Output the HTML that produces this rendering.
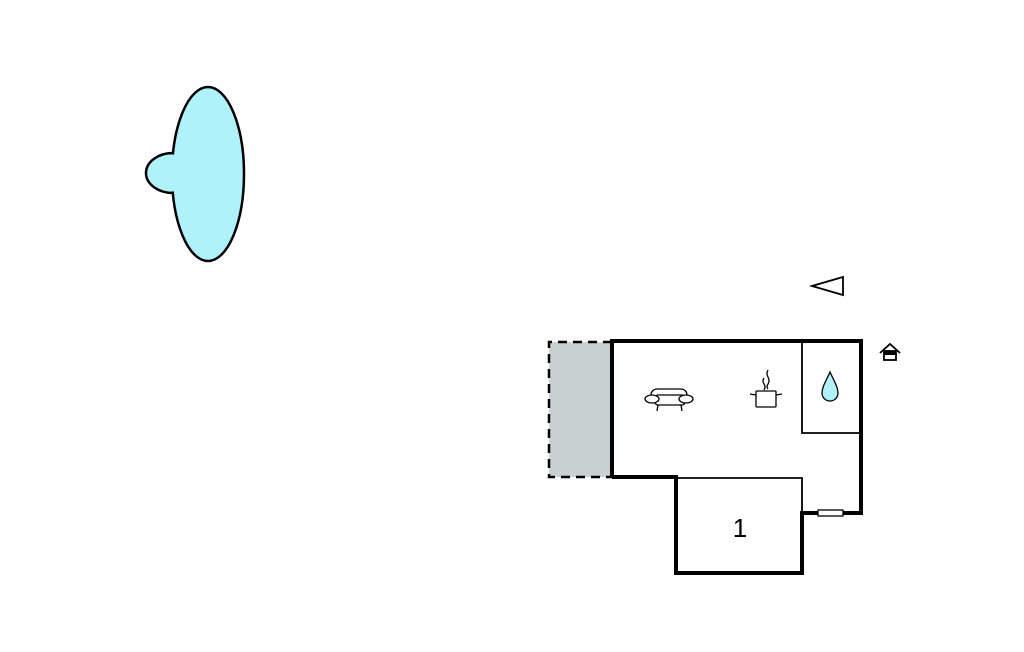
<!DOCTYPE html>
<html><head><style>html,body{margin:0;padding:0;background:#fff;}svg{display:block}</style></head>
<body>
<svg width="1024" height="652" viewBox="0 0 1024 652" xmlns="http://www.w3.org/2000/svg">
<!-- pond -->
<ellipse cx="173" cy="173" rx="27" ry="20" fill="#b0f2fa" stroke="#000" stroke-width="2.5"/>
<ellipse cx="208" cy="174" rx="36" ry="87" fill="#b0f2fa" stroke="#000" stroke-width="2.5"/>
<ellipse cx="173" cy="173" rx="25.5" ry="18.5" fill="#b0f2fa"/>
<ellipse cx="208" cy="174" rx="34.5" ry="85.5" fill="#b0f2fa"/>
<!-- north arrow -->
<polygon points="812,286 843,277 843,295" fill="none" stroke="#000" stroke-width="1.8"/>
<!-- terrace -->
<rect x="549" y="342" width="63" height="135" fill="#c9d1d3"/>
<path d="M612,342 H549 V477 H612" fill="none" stroke="#000" stroke-width="2.5" stroke-dasharray="9,6"/>
<!-- thin lines -->
<g stroke="#000" stroke-width="1.8" fill="none">
<path d="M802,342 V433 H860"/>
<path d="M676,478 H802 V513"/>
</g>
<!-- thick walls -->
<g stroke="#000" stroke-width="4" fill="none">
<path d="M612,477 V341 H861 V513 H802 V573 H676 V477 H612"/>
</g>
<rect x="818" y="510" width="25" height="6" fill="#fff" stroke="#000" stroke-width="1.3"/>
<text x="740" y="537" font-family="Liberation Sans, sans-serif" font-size="26" text-anchor="middle">1</text>
<!-- sofa -->
<g stroke="#000" stroke-width="1.3" fill="#fff">
<rect x="651" y="389" width="36" height="14" rx="6"/>
<rect x="655" y="395" width="30" height="10" rx="3"/>
<ellipse cx="652" cy="399" rx="7" ry="4"/>
<ellipse cx="686" cy="399" rx="7" ry="4"/>
<path d="M658,405 L657,411 M681,405 L682,411" fill="none"/>
</g>
<!-- pot -->
<g stroke="#000" stroke-width="1.3" fill="none">
<rect x="756" y="391" width="20" height="16" rx="1" fill="#fff"/>
<path d="M756,395 L750,394 M776,395 L782,394"/>
<path d="M764,378 q-2,3 0,6 q2,3 0,6 M768,370 q-2,4 0,7 q2,4 0,7 q-2,3 0,5"/>
</g>
<!-- drop -->
<path d="M830,372 C826,381 822,387 822,393 A8,8 0 0 0 838,393 C838,387 834,381 830,372 Z" fill="#b0f2fa" stroke="#000" stroke-width="1.3"/>
<!-- house icon -->
<g stroke="#000" stroke-width="1.8" fill="none">
<path d="M880,353 L890,344 L900,353"/>
<rect x="884" y="351" width="12" height="9" fill="#fff"/>
</g>
<rect x="884" y="351" width="12" height="4" fill="#000"/>
</svg>
</body></html>
